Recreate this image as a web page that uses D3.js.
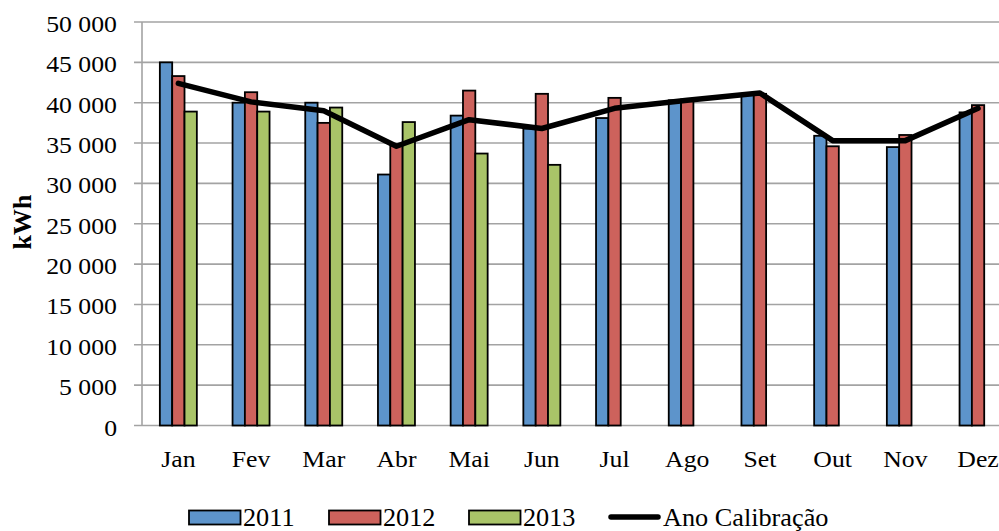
<!DOCTYPE html>
<html>
<head>
<meta charset="utf-8">
<script src="https://cdn.jsdelivr.net/npm/d3@7"></script>
<style>
  html, body { margin: 0; padding: 0; background: #fff; }
  svg { display: block; }
  svg text { font-family: 'Liberation Serif', 'Times New Roman', Times, serif; }
</style>
</head>
<body>
<script>
const months = ['Jan', 'Fev', 'Mar', 'Abr', 'Mai', 'Jun', 'Jul', 'Ago', 'Set', 'Out', 'Nov', 'Dez'];
const years = ['2011', '2012', '2013'];
const v2011 = [45000, 40000, 40000, 31100, 38400, 36800, 38100, 40300, 41000, 35900, 34500, 38800];
const v2012 = [43300, 41300, 37500, 34700, 41500, 41100, 40600, 40400, 41100, 34600, 36000, 39700];
const v2013 = [38900, 38900, 39400, 37600, 33700, 32300, null, null, null, null, null, null];
const calib = [42400, 40100, 39000, 34600, 37900, 36800, 39300, 40300, 41200, 35300, 35300, 39300];
const yTicks = [0, 5000, 10000, 15000, 20000, 25000, 30000, 35000, 40000, 45000, 50000];
const lineLabel = 'Ano Calibração';
const yLabel = 'kWh';

const width = 999, height = 531;
const colors = { '2011': '#5D94CB', '2012': '#CD625C', '2013': '#A9C468' };
const series = { '2011': v2011, '2012': v2012, '2013': v2013 };

const svg = d3.select('body')
  .append('svg')
  .attr('width', width)
  .attr('height', height);

const x = d3.scaleBand()
  .domain(months)
  .range([142, 1014.4]);
const xSub = d3.scaleBand()
  .domain(years)
  .range([-18.5, 18.5]);
const y = d3.scaleLinear()
  .domain([0, 50000])
  .range([425.5, 22]);

const fmt = v => d3.format(',')(v).replace(/,/g, ' ');

// gridlines + tick marks
svg.append('g')
  .selectAll('line')
  .data(yTicks)
  .join('line')
  .attr('x1', 134)
  .attr('x2', width)
  .attr('y1', d => y(d))
  .attr('y2', d => y(d))
  .attr('stroke', '#a3a3a3')
  .attr('stroke-width', 1.6);

svg.append('line')
  .attr('x1', 142).attr('x2', 142)
  .attr('y1', y(50000)).attr('y2', y(0))
  .attr('stroke', '#a3a3a3')
  .attr('stroke-width', 1.6);

// y tick labels
svg.append('g')
  .selectAll('text')
  .data(yTicks)
  .join('text')
  .attr('transform', d => `translate(117,${y(d) + 10}) scale(1.12,1)`)
  .attr('text-anchor', 'end')
  .attr('font-size', 23)
  .attr('fill', '#000')
  .text(d => fmt(d));

// bars
const bars = [];
months.forEach((m, i) => {
  years.forEach(yr => {
    const v = series[yr][i];
    if (v != null) bars.push({ m, yr, v });
  });
});
svg.append('g')
  .selectAll('rect')
  .data(bars)
  .join('rect')
  .attr('x', d => x(d.m) + x.bandwidth() / 2 + xSub(d.yr))
  .attr('y', d => y(d.v))
  .attr('width', xSub.bandwidth())
  .attr('height', d => y(0) - y(d.v))
  .attr('fill', d => colors[d.yr])
  .attr('stroke', '#000')
  .attr('stroke-width', 1.8);

// calibration line
const line = d3.line()
  .x((d, i) => x(months[i]) + x.bandwidth() / 2)
  .y(d => y(d));
svg.append('path')
  .attr('d', line(calib))
  .attr('fill', 'none')
  .attr('stroke', '#000')
  .attr('stroke-width', 5.5)
  .attr('stroke-linejoin', 'round')
  .attr('stroke-linecap', 'round');

// x labels
svg.append('g')
  .selectAll('text')
  .data(months)
  .join('text')
  .attr('transform', d => `translate(${x(d) + x.bandwidth() / 2},466.5) scale(1.12,1)`)
  .attr('text-anchor', 'middle')
  .attr('font-size', 23)
  .text(d => d);

// y label
svg.append('text')
  .attr('transform', 'translate(31,222) rotate(-90)')
  .attr('text-anchor', 'middle')
  .attr('font-size', 26)
  .attr('font-weight', 'bold')
  .text(yLabel);

// legend
const legend = svg.append('g');
const legendX = [189, 329, 469];
years.forEach((yr, i) => {
  legend.append('rect')
    .attr('x', legendX[i])
    .attr('y', 510.5)
    .attr('width', 51.5)
    .attr('height', 14)
    .attr('fill', colors[yr])
    .attr('stroke', '#000')
    .attr('stroke-width', 1.8);
  legend.append('text')
    .attr('transform', `translate(${legendX[i] + 54},526) scale(1.05,1)`)
    .attr('font-size', 25)
    .text(yr);
});
legend.append('line')
  .attr('x1', 611).attr('x2', 658)
  .attr('y1', 517).attr('y2', 517)
  .attr('stroke', '#000')
  .attr('stroke-width', 5.5)
  .attr('stroke-linecap', 'round');
legend.append('text')
  .attr('transform', 'translate(663,526) scale(1.05,1)')
  .attr('font-size', 25)
  .text(lineLabel);
</script>
</body>
</html>
